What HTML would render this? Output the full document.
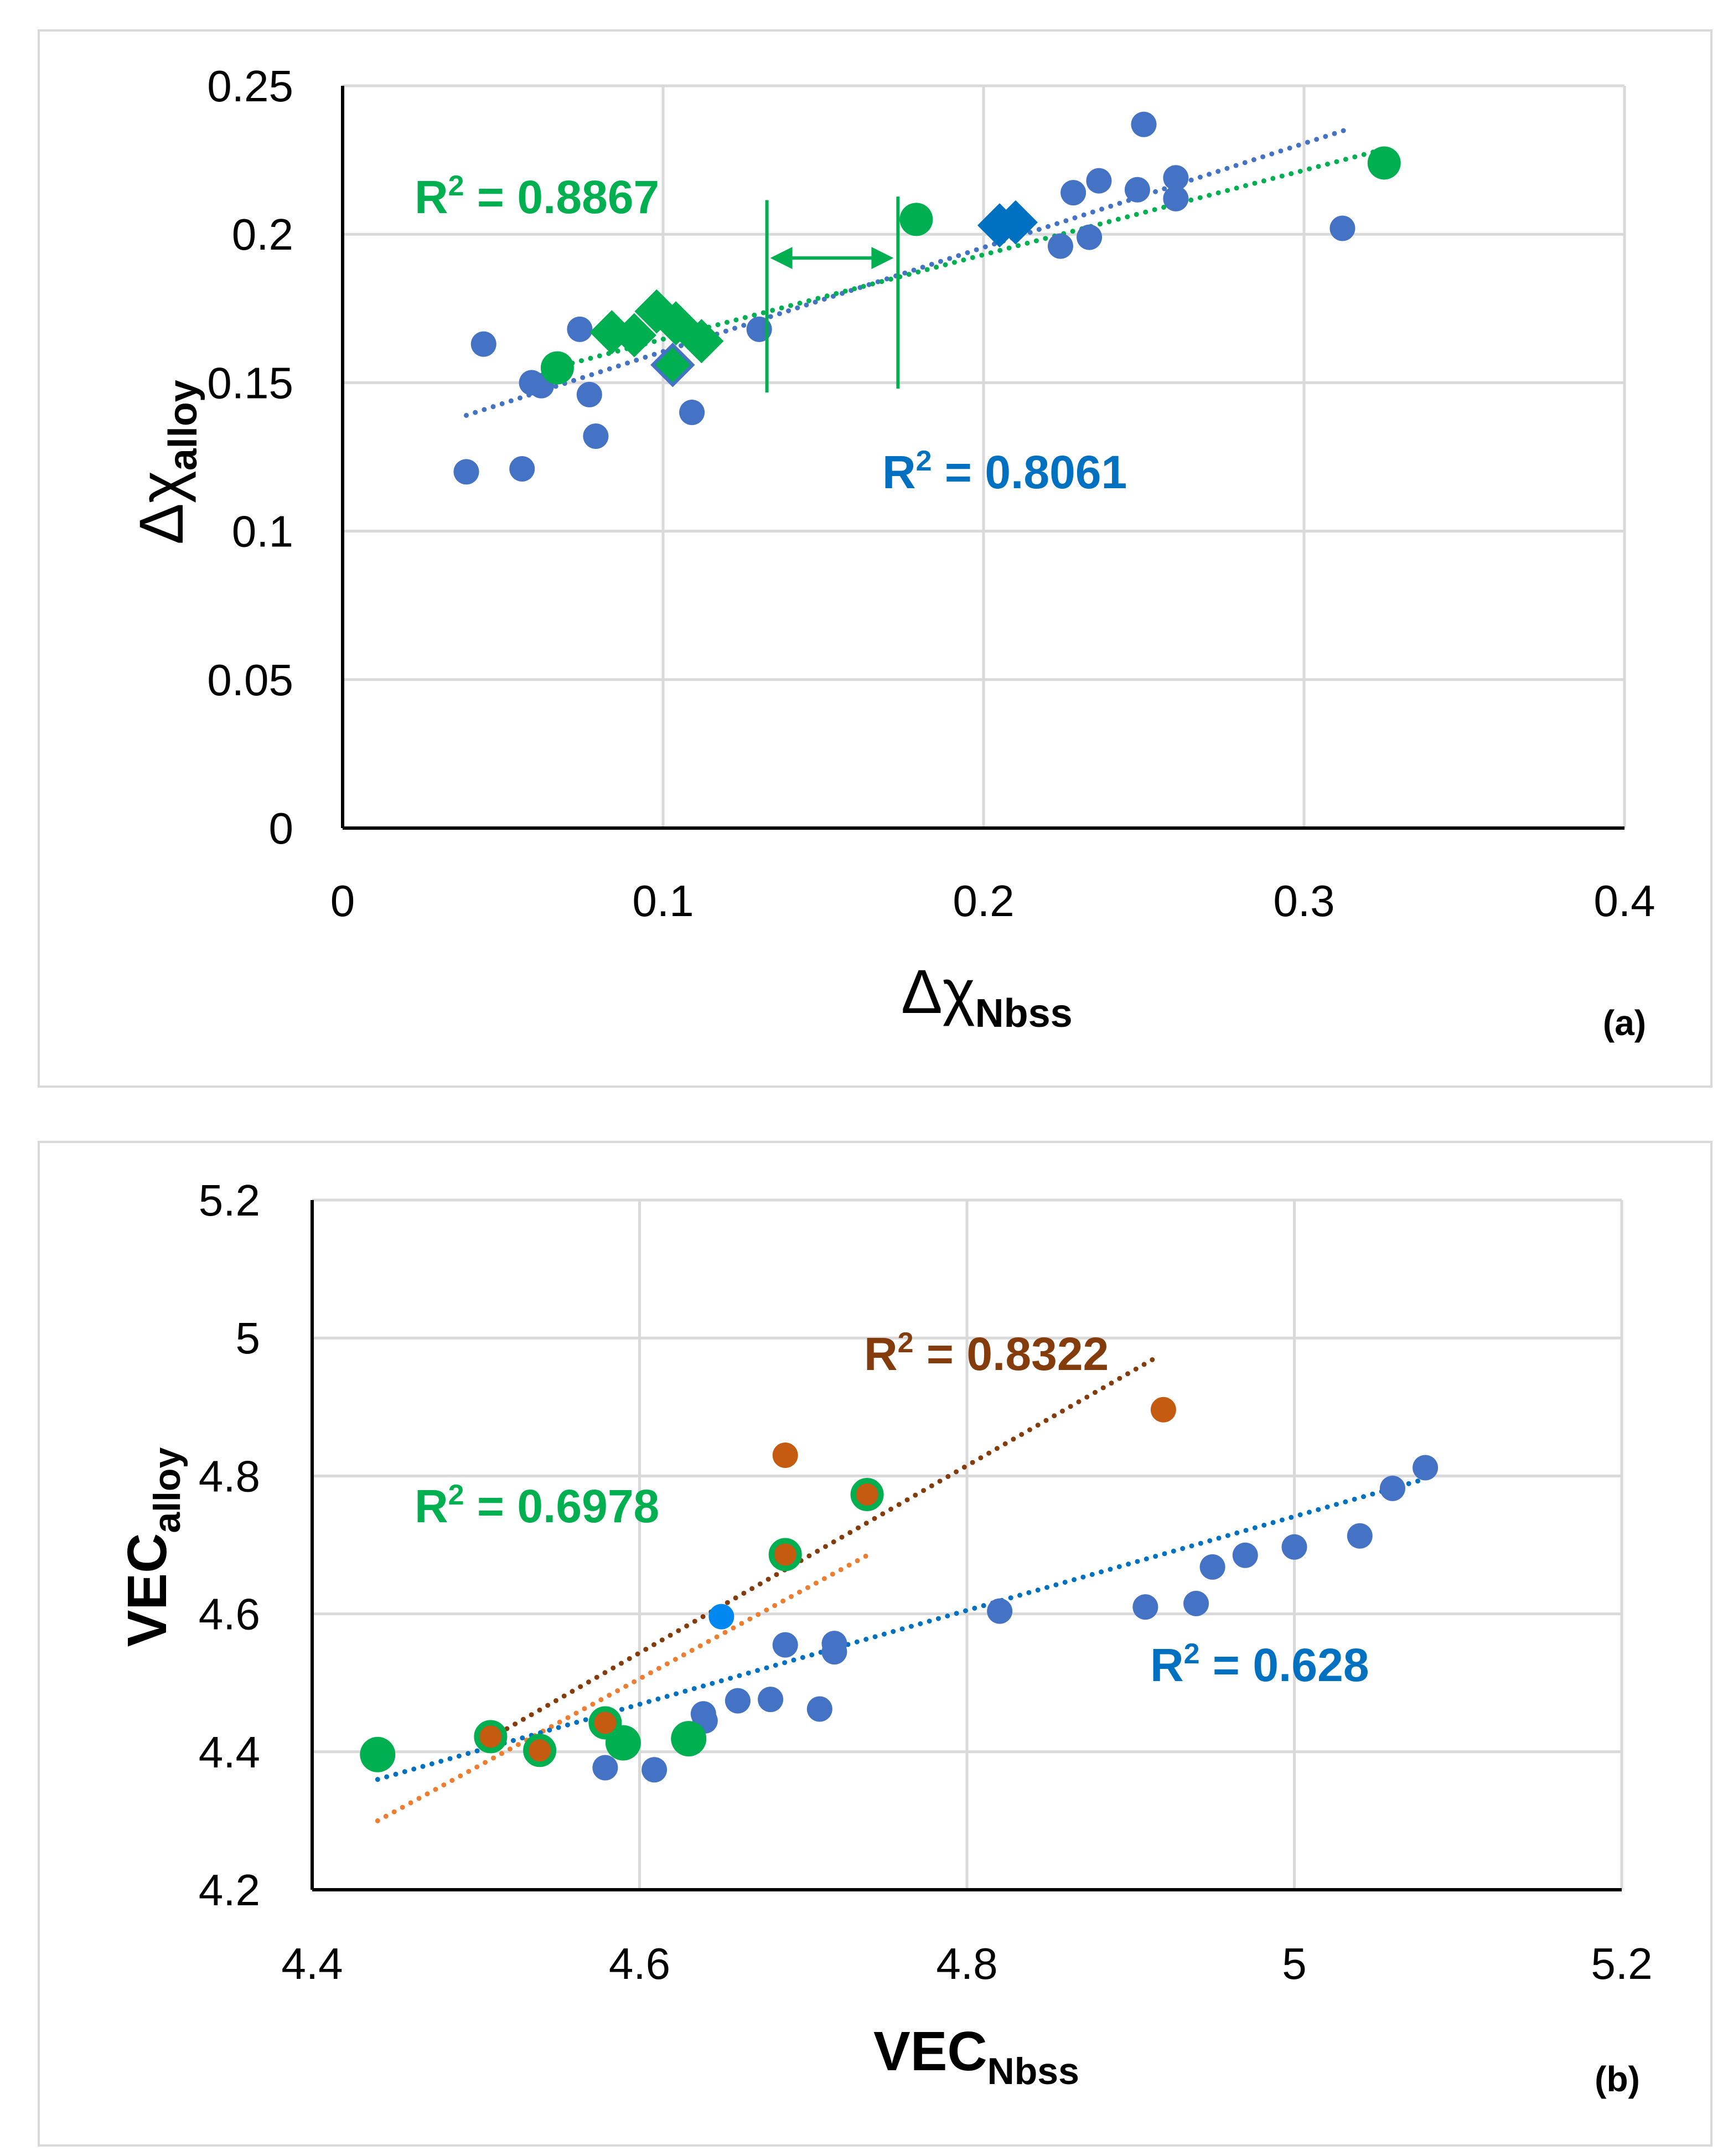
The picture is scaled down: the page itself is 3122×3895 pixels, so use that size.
<!DOCTYPE html>
<html><head><meta charset="utf-8"><style>
html,body{margin:0;padding:0;background:#fff}
svg{display:block;font-family:"Liberation Sans",sans-serif}
</style></head><body>
<svg id="s" width="3122" height="3895" viewBox="0 0 3122 3895" xmlns="http://www.w3.org/2000/svg">
<rect x="70" y="55" width="3022" height="1908" fill="none" stroke="#d9d9d9" stroke-width="4"/>
<rect x="70" y="2063" width="3022" height="1813" fill="none" stroke="#d9d9d9" stroke-width="4"/>
<g id="ga"></g>
<g id="gb"></g>
</svg>
<script>
// ---- Panel (a) data ----
const aXTicks=[0,0.1,0.2,0.3,0.4];
const aYTicks=[0,0.05,0.1,0.15,0.2,0.25];
const aBlueX=[0.0386,0.056,0.044,0.059,0.062,0.074,0.077,0.079,0.109,0.130,0.224,0.233,0.228,0.236,0.248,0.250,0.260,0.260,0.312];
const aBlueY=[0.120,0.121,0.163,0.150,0.149,0.168,0.146,0.132,0.140,0.168,0.196,0.199,0.214,0.218,0.215,0.237,0.219,0.212,0.202];
const aGreenX=[0.067,0.179,0.325];
const aGreenY=[0.155,0.205,0.224];
const aGDiaX=[0.084,0.091,0.098,0.104,0.112,0.103];
const aGDiaY=[0.167,0.166,0.174,0.170,0.164,0.156];
const aBDiaX=[0.205,0.210];
const aBDiaY=[0.203,0.204];
const aBlueTrend=[[0.0386,0.139],[0.3126,0.235]];
const aGreenTrend=[[0.066,0.155],[0.3227,0.228]];
// ---- Panel (b) data ----
const bXTicks=[4.4,4.6,4.8,5,5.2];
const bYTicks=[4.2,4.4,4.6,4.8,5,5.2];
const bBlueX=[4.579,4.609,4.639,4.64,4.66,4.68,4.689,4.71,4.719,4.719,4.82,4.909,4.94,4.95,4.97,5.0,5.04,5.06,5.08];
const bBlueY=[4.377,4.374,4.455,4.445,4.474,4.476,4.555,4.462,4.557,4.545,4.604,4.61,4.615,4.668,4.685,4.697,4.713,4.782,4.812];
const bLightX=[4.65];
const bLightY=[4.596];
const bOrangeX=[4.689,4.92];
const bOrangeY=[4.83,4.896];
const bRingX=[4.509,4.539,4.579,4.689,4.739];
const bRingY=[4.422,4.402,4.442,4.686,4.773];
const bGreenX=[4.44,4.59,4.63];
const bGreenY=[4.396,4.413,4.419];
const bBlueTrend=[[4.44,4.36],[5.079,4.795]];
const bBrownTrend=[[4.509,4.42],[4.918,4.975]];
const bOrangeTrend=[[4.44,4.30],[4.74,4.686]];

const NS="http://www.w3.org/2000/svg";
function mk(p,tag,attrs,txt){const e=document.createElementNS(NS,tag);for(const k in attrs)e.setAttribute(k,attrs[k]);if(txt!==undefined)e.textContent=txt;p.appendChild(e);return e;}
function scale(d0,d1,r0,r1){return v=>r0+(v-d0)/(d1-d0)*(r1-r0);}

function axes(g,X,Y,xt,yt,x0,x1,y0,y1,tickFmt,xLabY,yLabX,pre){
  yt.forEach(v=>{const l=mk(g,'line',{x1:X(xt[0]),x2:X(xt[xt.length-1]),y1:Y(v),y2:Y(v),stroke:'#d9d9d9','stroke-width':5});
    
    
    const t=mk(g,'text',{x:yLabX,y:Y(v)+28,'text-anchor':'end','font-size':80,fill:'#000'},tickFmt(v));
    
    });
  xt.forEach(v=>{const l=mk(g,'line',{x1:X(v),x2:X(v),y1:Y(yt[0]),y2:Y(yt[yt.length-1]),stroke:'#d9d9d9','stroke-width':5});
    
    
    const t=mk(g,'text',{x:X(v),y:xLabY,'text-anchor':'middle','font-size':80,fill:'#000'},tickFmt(v));
    
    });
  const ax=mk(g,'line',{x1:X(xt[0]),x2:X(xt[xt.length-1]),y1:Y(yt[0]),y2:Y(yt[0]),stroke:'#000','stroke-width':6});
  
  
  const ay=mk(g,'line',{x1:X(xt[0]),x2:X(xt[0]),y1:Y(yt[0]),y2:Y(yt[yt.length-1]),stroke:'#000','stroke-width':6});
  
  
}
function circles(g,X,Y,xs,ys,r,fill,name,stroke,sw){xs.forEach((v,i)=>{const c=mk(g,'circle',{cx:X(v),cy:Y(ys[i]),r:r,fill:fill,stroke:stroke||'none','stroke-width':sw||0});
  
  });}
function diamonds(g,X,Y,xs,ys,s,fill,name,stroke){xs.forEach((v,i)=>{const cx=X(v),cy=Y(ys[i]);const p=mk(g,'polygon',{points:`${cx},${cy-s} ${cx+s},${cy} ${cx},${cy+s} ${cx-s},${cy}`,fill:fill,stroke:stroke||'none','stroke-width':stroke?6:0});
  
  });}
function trend(g,X,Y,pts,col,name){const l=mk(g,'line',{x1:X(pts[0][0]),y1:Y(pts[0][1]),x2:X(pts[1][0]),y2:Y(pts[1][1]),stroke:col,'stroke-width':9,'stroke-dasharray':'0 17','stroke-linecap':'round'});
  
  }
function label(g,x,y,txt,col,name){const t=mk(g,'text',{x:x,y:y,'font-size':84,'font-weight':'bold',fill:col});
  
  
  const a=mk(t,'tspan',{},'R');const b=mk(t,'tspan',{'font-size':52,dy:-32},'2');const c=mk(t,'tspan',{dy:32},' = '+txt);}

// Panel a
const ga=document.getElementById('ga');
const XA=scale(0,0.4,619,2935), YA=scale(0,0.25,1496,155);
axes(ga,XA,YA,aXTicks,aYTicks,0,0,0,0,v=>String(v),1655,530,'a-');
trend(ga,XA,YA,aBlueTrend,'#4472C4','a-blue-trendline');
trend(ga,XA,YA,aGreenTrend,'#00B050','a-green-trendline');
circles(ga,XA,YA,aBlueX,aBlueY,23,'#4472C4','a-blue-point');
circles(ga,XA,YA,aGreenX,aGreenY,30,'#00B050','a-green-point');
diamonds(ga,XA,YA,aGDiaX.slice(0,5),aGDiaY.slice(0,5),40,'#00B050','a-green-diamond');
diamonds(ga,XA,YA,aGDiaX.slice(5),aGDiaY.slice(5),36,'#00B050','a-green-diamond-outlined','#4472C4');
diamonds(ga,XA,YA,aBDiaX,aBDiaY,40,'#0070C0','a-blue-diamond');
// bracket lines & arrow
[[0.1324,0.2115,0.1467],[0.1733,0.2127,0.148]].forEach(b=>{const l=mk(ga,'line',{x1:XA(b[0]),x2:XA(b[0]),y1:YA(b[1]),y2:YA(b[2]),stroke:'#00B050','stroke-width':6});
  
  });
(function(){const y=YA(0.192),x1=XA(0.1324)+6,x2=XA(0.1733)-8;
 const l=mk(ga,'line',{x1:x1+20,x2:x2-20,y1:y,y2:y,stroke:'#00B050','stroke-width':6});
 
 
 mk(ga,'polygon',{points:`${x1},${y} ${x1+40},${y-20} ${x1+40},${y+20}`,fill:'#00B050'});
 mk(ga,'polygon',{points:`${x2},${y} ${x2-40},${y-20} ${x2-40},${y+20}`,fill:'#00B050'});})();
label(ga,749,385,'0.8867','#00B050','a-green-r2-label');
label(ga,1594,882,'0.8061','#0070C0','a-blue-r2-label');
(function(){const t=mk(ga,'text',{x:1628,y:1830,'font-size':112,fill:'#000'});
 
 
 mk(t,'tspan',{},'Δχ');mk(t,'tspan',{'font-size':72,'font-weight':'bold',dy:25},'Nbss');
 const y=mk(ga,'text',{x:0,y:0,'font-size':112,fill:'#000',transform:'translate(330,835) rotate(-90)','text-anchor':'middle'});
 
 
 mk(y,'tspan',{},'Δχ');mk(y,'tspan',{'font-size':72,'font-weight':'bold',dy:25},'alloy');
 const p=mk(ga,'text',{x:2935,y:1870,'font-size':64,'font-weight':'bold','text-anchor':'middle'},'(a)');
 
 })();

// Panel b
const gb=document.getElementById('gb');
const XB=scale(4.4,5.2,564,2930), YB=scale(4.2,5.2,3414,2168);
axes(gb,XB,YB,bXTicks,bYTicks,0,0,0,0,v=>String(v),3575,470,'b-');
trend(gb,XB,YB,bOrangeTrend,'#ED7D31','b-orange-trendline');
trend(gb,XB,YB,bBrownTrend,'#843C0C','b-brown-trendline');
trend(gb,XB,YB,bBlueTrend,'#0070C0','b-blue-trendline');
circles(gb,XB,YB,bBlueX,bBlueY,23,'#4472C4','b-blue-point');
circles(gb,XB,YB,bLightX,bLightY,23,'#0088F0','b-lightblue-point');
circles(gb,XB,YB,bGreenX,bGreenY,32,'#00B050','b-green-point');
circles(gb,XB,YB,bRingX,bRingY,25,'#C55A11','b-ringed-orange-point','#00B050',10);
circles(gb,XB,YB,bOrangeX,bOrangeY,23,'#C55A11','b-orange-point');
label(gb,1561,2475,'0.8322','#843C0C','b-brown-r2-label');
label(gb,749,2750,'0.6978','#00B050','b-green-r2-label');
label(gb,2078,3037,'0.628','#0070C0','b-blue-r2-label');
(function(){const t=mk(gb,'text',{x:1578,y:3740,'font-size':100,'font-weight':'bold',fill:'#000'});
 
 
 mk(t,'tspan',{},'VEC');mk(t,'tspan',{'font-size':68,dy:25},'Nbss');
 const y=mk(gb,'text',{x:0,y:0,'font-size':100,'font-weight':'bold',fill:'#000',transform:'translate(300,2795) rotate(-90)','text-anchor':'middle'});
 
 
 mk(y,'tspan',{},'VEC');mk(y,'tspan',{'font-size':68,dy:25},'alloy');
 const p=mk(gb,'text',{x:2922,y:3778,'font-size':64,'font-weight':'bold','text-anchor':'middle'},'(b)');
 
 })();
</script>
</body></html>
